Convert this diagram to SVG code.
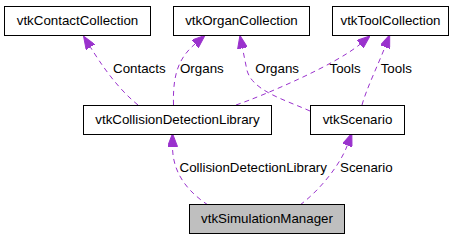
<svg xmlns="http://www.w3.org/2000/svg" width="464" height="240" viewBox="0 0 464 240">
  <style>
    text { font-family: "Liberation Sans", Arial, Helvetica, sans-serif; font-size: 13.33px; fill: #000; }
    .node rect { fill: #fff; stroke: #000; stroke-width: 1; }
    .node.current rect { fill: #bfbfbf; }
    .node text { text-anchor: middle; }
    .edge path { fill: none; stroke: #9a32cd; stroke-width: 1; stroke-dasharray: 5 4; }
  </style>
  <defs>
    <marker id="arrow" markerUnits="userSpaceOnUse" markerWidth="13" markerHeight="10" viewBox="0 0 13 10" refX="0" refY="5" orient="auto">
      <path d="M0,0 L13,5 L0,10 z" fill="#9a32cd" stroke="#9a32cd" stroke-width="1"/>
    </marker>
  </defs>

  <rect width="464" height="240" fill="#fff"/>

  <!-- connectors -->
  <g id="edges">
    <g class="edge">
      <path d="M138,105 C117,88 100.75,63.75 90.4,47.1" marker-end="url(#arrow)"/>
      <text x="113" y="73">Contacts</text>
    </g>
    <g class="edge">
      <path d="M173.5,105 C172.5,72 180,57 195.1,43.9" marker-end="url(#arrow)"/>
      <text x="180" y="73">Organs</text>
    </g>
    <g class="edge">
      <path d="M310,111 C283,99 250,90 246.5,68 L242.5,48.2" marker-end="url(#arrow)"/>
      <text x="255.3" y="73">Organs</text>
    </g>
    <g class="edge">
      <path d="M236,105 C265,95 335,65 360,44.3" marker-end="url(#arrow)"/>
      <text x="329.5" y="73">Tools</text>
    </g>
    <g class="edge">
      <path d="M362,105 C366,90 378,65 385,47" marker-end="url(#arrow)"/>
      <text x="380.7" y="73">Tools</text>
    </g>
    <g class="edge">
      <path d="M208,205 C190,193 172.5,175 172.5,146.5" marker-end="url(#arrow)"/>
      <text x="179.5" y="172">CollisionDetectionLibrary</text>
    </g>
    <g class="edge">
      <path d="M300,205 C320,190 340,165 347.3,145.4" marker-end="url(#arrow)"/>
      <text x="340" y="172">Scenario</text>
    </g>
  </g>

  <!-- class nodes -->
  <g id="vtkContactCollection" class="node">
    <rect x="4.5" y="6.5" width="146" height="29"/>
    <text x="77.5" y="24.5">vtkContactCollection</text>
  </g>
  <g id="vtkOrganCollection" class="node">
    <rect x="173.5" y="6.5" width="136" height="29"/>
    <text x="241.5" y="24.5">vtkOrganCollection</text>
  </g>
  <g id="vtkToolCollection" class="node">
    <rect x="332.5" y="6.5" width="116" height="29"/>
    <text x="390.5" y="24.5">vtkToolCollection</text>
  </g>
  <g id="vtkCollisionDetectionLibrary" class="node">
    <rect x="83.5" y="105.5" width="188" height="29"/>
    <text x="177.5" y="123.5">vtkCollisionDetectionLibrary</text>
  </g>
  <g id="vtkScenario" class="node">
    <rect x="310.5" y="105.5" width="94" height="29"/>
    <text x="357.5" y="123.5">vtkScenario</text>
  </g>
  <g id="vtkSimulationManager" class="node current">
    <rect x="189.5" y="204.5" width="155" height="29"/>
    <text x="267" y="222.5">vtkSimulationManager</text>
  </g>
</svg>
